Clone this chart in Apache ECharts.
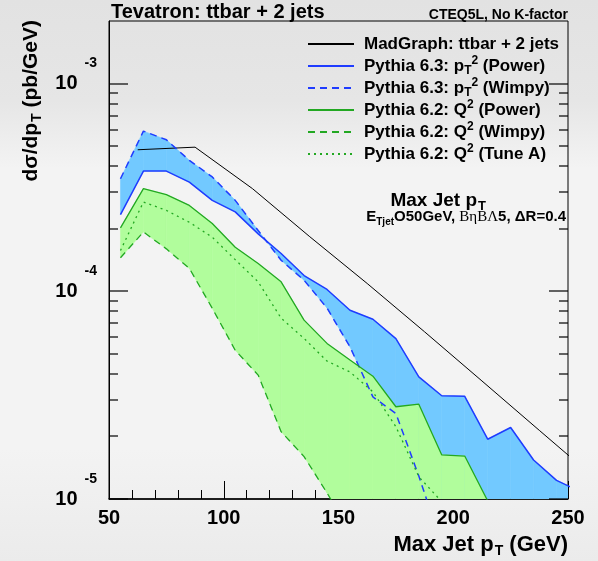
<!DOCTYPE html>
<html><head><meta charset="utf-8">
<script src="https://cdn.jsdelivr.net/npm/echarts@6/dist/echarts.min.js"></script>
<style>html,body{margin:0;padding:0;background:#eee;}#c{width:598px;height:561px;}</style>
</head><body><div id="c"></div>
<script>
// ---- data ----
const binCenters10 = [55,65,75,85,95,105,115,125,135,145,155,165,175,185,195,205,215,225,235,245,255];
const madgraphX = [62.5,87.5,112.5,137.5,162.5,187.5,212.5,237.5,262.5];
const madgraph = [4.80e-4,4.94e-4,3.12e-4,1.83e-4,1.09e-4,6.38e-5,3.70e-5,2.14e-5,1.24e-5];
const py63Power = [2.34e-4,3.79e-4,3.79e-4,3.35e-4,2.74e-4,2.41e-4,1.89e-4,1.52e-4,1.19e-4,1.02e-4,8.1e-5,7.33e-5,5.92e-5,3.87e-5,3.14e-5,3.12e-5,1.94e-5,2.21e-5,1.54e-5,1.23e-5,1.09e-5];
const py63Wimpy = [3.48e-4,5.90e-4,5.36e-4,4.27e-4,3.55e-4,2.74e-4,1.96e-4,1.41e-4,1.13e-4,8.3e-5,5.4e-5,3.1e-5,2.58e-5,1.29e-5,6.0e-6,4.5e-6,3.5e-6,2.8e-6,2.2e-6,1.8e-6,1.5e-6];
const py62Power = [2.02e-4,3.12e-4,2.92e-4,2.59e-4,2.12e-4,1.63e-4,1.36e-4,1.11e-4,7.26e-5,5.61e-5,4.67e-5,3.90e-5,2.78e-5,2.86e-5,1.63e-5,1.61e-5,9.8e-6,6.0e-6,5.0e-6,3.5e-6,3.0e-6];
const py62Wimpy = [1.45e-4,1.93e-4,1.60e-4,1.29e-4,8.28e-5,5.20e-5,3.95e-5,2.11e-5,1.60e-5,1.07e-5,7.0e-6,5.0e-6,3.5e-6,2.5e-6,2.0e-6,1.6e-6,1.3e-6,1.1e-6,1.0e-6,0.9e-6,0.8e-6];
const py62TuneA = [1.57e-4,2.69e-4,2.45e-4,2.15e-4,1.82e-4,1.42e-4,1.11e-4,7.42e-5,5.93e-5,4.61e-5,4.09e-5,3.28e-5,2.23e-5,1.28e-5,9.7e-6,5.5e-6,3.5e-6];
const xRange = [50, 250];
const xTickStep = 50;
const yRange = [1e-5, 2e-3];
const yMajorTicks = [1e-5,1e-4,1e-3];
const yMinorTicks = [2e-5,3e-5,4e-5,5e-5,6e-5,7e-5,8e-5,9e-5,2e-4,3e-4,4e-4,5e-4,6e-4,7e-4,8e-4,9e-4];
const seriesNames = ['MadGraph: ttbar + 2 jets','Pythia 6.3: pT2 (Power)','Pythia 6.3: pT2 (Wimpy)','Pythia 6.2: Q2 (Power)','Pythia 6.2: Q2 (Wimpy)','Pythia 6.2: Q2 (Tune A)'];
const legendLabels = ['MadGraph: ttbar + 2 jets','Pythia 6.3: p{sub|T}{sup|2} (Power)','Pythia 6.3: p{sub|T}{sup|2} (Wimpy)','Pythia 6.2: Q{sup|2} (Power)','Pythia 6.2: Q{sup|2} (Wimpy)','Pythia 6.2: Q{sup|2} (Tune A)'];

const F = '"Liberation Sans", Arial, Helvetica, sans-serif';
const BLUE = '#1f3cff', GREEN = '#22a822', BLUEFILL = '#72c9ff', GREENFILL = '#b1fd9c';

function pairs(xs, ys){ return ys.map((y,i)=>[xs[i], y]); }
function bandData(xs, a, b){
  const out = [];
  for (let i=0;i<xs.length-1;i++) out.push([xs[i], a[i], b[i], xs[i+1], a[i+1], b[i+1]]);
  return out;
}
function bandRender(color){
  return function(params, api){
    const x1 = api.value(0), x2 = api.value(3);
    const p1a = api.coord([x1, api.value(1)]), p1b = api.coord([x1, api.value(2)]);
    const p2a = api.coord([x2, api.value(4)]), p2b = api.coord([x2, api.value(5)]);
    const cs = params.coordSys;
    return {type:'polygon', shape:{points:[p1a,p2a,p2b,p1b]},
      style:{fill:color, stroke:color, lineWidth:0.6},
      clipPath:{type:'rect', shape:{x:cs.x, y:cs.y, width:cs.width, height:cs.height}}};
  };
}
function tickRender(params, api){
  const v = api.value(1), major = api.value(2) === 1;
  const pl = api.coord([xRange[0], v]), pr = api.coord([xRange[1], v]);
  const len = major ? 19 : 9;
  const y = Math.round(pl[1]);
  return {type:'group', children:[
    {type:'rect', shape:{x:pl[0], y:y-0.6, width:len, height:1.2}, style:{fill:'#000'}},
    {type:'rect', shape:{x:pr[0]-len, y:y-0.6, width:len, height:1.2}, style:{fill:'#000'}}
  ]};
}
const legendRich = {
  sub:{fontSize:12, fontWeight:'bold', fontFamily:F, lineHeight:12, padding:[10,0,0,0], verticalAlign:'top'},
  sup:{fontSize:12, fontWeight:'bold', fontFamily:F, lineHeight:12, padding:[0,0,0,0], verticalAlign:'top'}
};

const chart = echarts.init(document.getElementById('c'), null, {renderer:'canvas'});
chart.setOption({
  backgroundColor: {type:'linear', x:0, y:0, x2:0, y2:1, colorStops:[
    {offset:0, color:'#e2e2e2'},{offset:0.18, color:'#e6e6e6'},{offset:0.3, color:'#f3f3f3'},
    {offset:0.8, color:'#f3f3f3'},{offset:1, color:'#ebebeb'}]},
  animation:false,
  grid:{left:109, right:30, top:21, bottom:62, show:true, borderColor:'#000', borderWidth:1, backgroundColor:'transparent'},
  xAxis:{type:'value', min:xRange[0], max:xRange[1], interval:xTickStep,
    axisLine:{show:true, lineStyle:{color:'#000', width:1.5}},
    axisTick:{show:true, inside:true, length:18, lineStyle:{color:'#000', width:1}},
    minorTick:{show:true, splitNumber:5, length:9, lineStyle:{color:'#000', width:1}},
    splitLine:{show:false},
    axisLabel:{fontFamily:F, fontSize:20, fontWeight:'bold', color:'#000', margin:9}},
  yAxis:{type:'log', logBase:10, min:yRange[0], max:yRange[1],
    axisLine:{show:true, lineStyle:{color:'#000', width:1}},
    axisTick:{show:false}, splitLine:{show:false}, minorTick:{show:false},
    axisLabel:{showMaxLabel:false, margin:12, color:'#000',
      formatter:function(v){ const l = Math.log10(v), e = Math.round(l);
        if (Math.abs(l-e) > 1e-6) return ''; return '{b|10}{s|' + e + '}'; },
      rich:{b:{fontFamily:F, fontSize:20, fontWeight:'bold', lineHeight:54},
            s:{fontFamily:F, fontSize:14, fontWeight:'bold', lineHeight:14, padding:[0,0,40,7], verticalAlign:'top'}}}},
  legend:{show:true, orient:'vertical', left:307, top:33, padding:0, itemGap:0, itemWidth:46, itemHeight:14,
    selectedMode:false, data:seriesNames, itemStyle:{opacity:0},
    formatter:function(name){ return legendLabels[seriesNames.indexOf(name)]; },
    textStyle:{fontFamily:F, fontSize:17, fontWeight:'bold', color:'#000', lineHeight:22, padding:[0,0,0,5], rich:legendRich}},
  graphic:[
    {type:'text', x:111, y:12, style:{text:'Tevatron: ttbar + 2 jets', fontFamily:F, fontSize:20, fontWeight:'bold', fill:'#000', align:'left', verticalAlign:'middle'}},
    {type:'text', x:568, y:15, style:{text:'CTEQ5L, No K-factor', fontFamily:F, fontSize:14, fontWeight:'bold', fill:'#000', align:'right', verticalAlign:'middle'}},
    {type:'text', x:486, y:201, style:{text:'Max Jet p{sub|T}', fontFamily:F, fontSize:19, fontWeight:'bold', fill:'#000', align:'right', verticalAlign:'middle', lineHeight:24,
      rich:{sub:{fontFamily:F, fontSize:13, fontWeight:'bold', lineHeight:13, padding:[11,0,0,1], verticalAlign:'top'}}}},
    {type:'text', x:566, y:217, style:{text:'E{sub|Tjet}O50GeV, {ser|BηBΛ}5, ΔR=0.4', fontFamily:F, fontSize:15, fontWeight:'bold', fill:'#000', align:'right', verticalAlign:'middle', lineHeight:20,
      rich:{sub:{fontFamily:F, fontSize:10, fontWeight:'bold', lineHeight:10, padding:[10,0,0,0], verticalAlign:'top'},
            ser:{fontFamily:'"Liberation Serif", serif', fontSize:15, fontWeight:'normal', lineHeight:20}}}},
    {type:'text', x:568, y:545, style:{text:'Max Jet p{sub|T} (GeV)', fontFamily:F, fontSize:22, fontWeight:'bold', fill:'#000', align:'right', verticalAlign:'middle', lineHeight:26,
      rich:{sub:{fontFamily:F, fontSize:14, fontWeight:'bold', lineHeight:14, padding:[12,0,0,1], verticalAlign:'top'}}}},
    {type:'text', x:31, y:20, rotation:Math.PI/2, style:{text:'dσ/dp{sub|T} (pb/GeV)', fontFamily:F, fontSize:21, fontWeight:'bold', fill:'#000', align:'right', verticalAlign:'middle', lineHeight:26,
      rich:{sub:{fontFamily:F, fontSize:14, fontWeight:'bold', lineHeight:14, padding:[12,0,0,1], verticalAlign:'top'}}}}
  ],
  series:[
    {type:'custom', name:'band63', z:1, silent:true, renderItem:bandRender(BLUEFILL), encode:{x:[0,3], y:[1,2,4,5]}, data:bandData(binCenters10, py63Power, py63Wimpy)},
    {type:'custom', name:'band62', z:2, silent:true, renderItem:bandRender(GREENFILL), encode:{x:[0,3], y:[1,2,4,5]}, data:bandData(binCenters10, py62Power, py62Wimpy)},
    {type:'line', name:seriesNames[0], z:5, symbol:'none', color:'#000', lineStyle:{color:'#000', width:1}, data:pairs(madgraphX, madgraph)},
    {type:'line', name:seriesNames[1], z:5, symbol:'none', color:BLUE, lineStyle:{color:BLUE, width:1.5}, data:pairs(binCenters10, py63Power)},
    {type:'line', name:seriesNames[2], z:5, symbol:'none', color:BLUE, lineStyle:{color:BLUE, width:1.5, type:[7,5]}, data:pairs(binCenters10, py63Wimpy)},
    {type:'line', name:seriesNames[3], z:5, symbol:'none', color:GREEN, lineStyle:{color:GREEN, width:1.3}, data:pairs(binCenters10, py62Power)},
    {type:'line', name:seriesNames[4], z:5, symbol:'none', color:GREEN, lineStyle:{color:GREEN, width:1.3, type:[7,5]}, data:pairs(binCenters10, py62Wimpy)},
    {type:'line', name:seriesNames[5], z:5, symbol:'none', color:GREEN, lineStyle:{color:GREEN, width:1.3, type:[2,4]}, data:pairs(binCenters10.slice(0, py62TuneA.length), py62TuneA)},
    {type:'custom', name:'yticks', z:6, silent:true, renderItem:tickRender, encode:{x:0, y:1},
      data: yMajorTicks.map(v=>[xRange[0], v, 1]).concat(yMinorTicks.map(v=>[xRange[0], v, 0]))}
  ]
});
</script></body></html>
